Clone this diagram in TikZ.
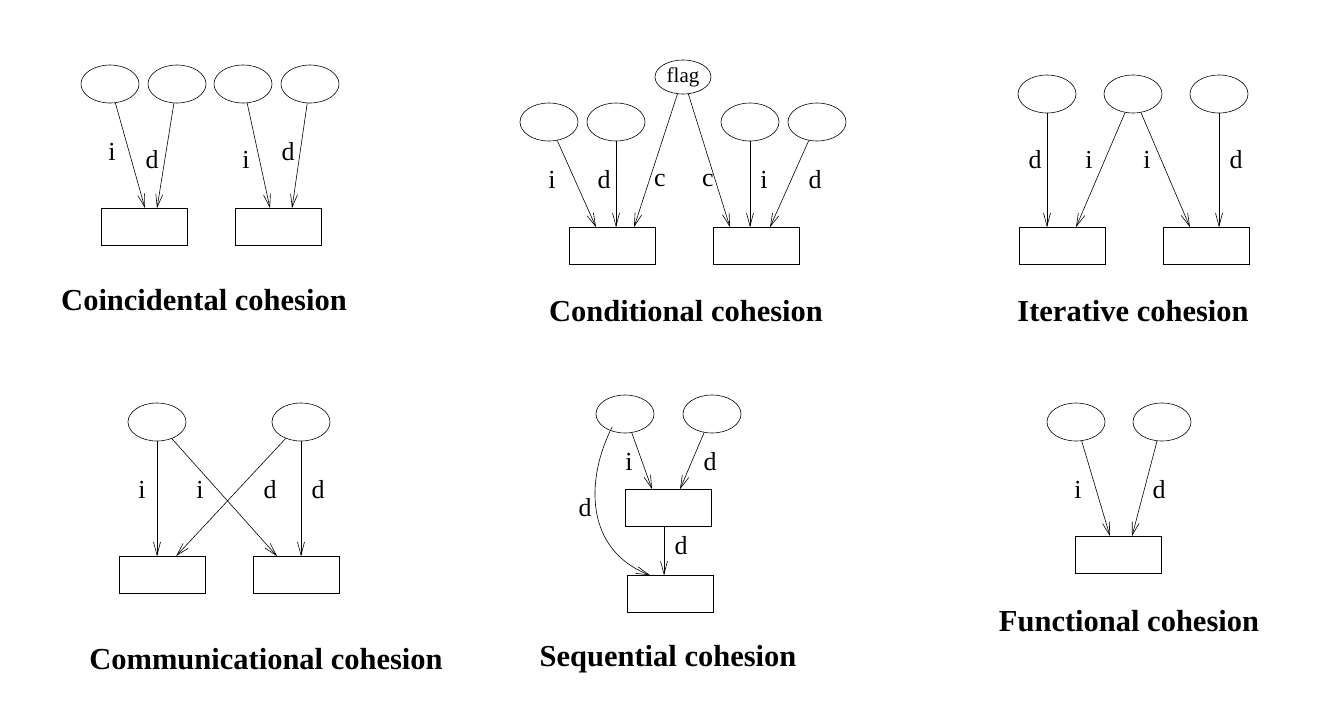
\documentclass[tikz,border=0pt]{standalone}
\usepackage{fontspec}
\setmainfont{Liberation Serif}
\usetikzlibrary{arrows.meta,shapes.geometric}
\begin{document}
\begin{tikzpicture}[x=1pt,y=-1pt,
 ell/.style={draw,ellipse,minimum width=58pt,minimum height=38pt,inner sep=0pt},
 box/.style={draw,rectangle,minimum width=86pt,minimum height=37pt,inner sep=0pt},
 lab/.style={font=\fontsize{26}{28}\selectfont,inner sep=0pt},
 ttl/.style={font=\fontsize{30.5}{32}\selectfont\bfseries,inner sep=0pt},
 arr/.style={-{Straight Barb[length=13pt,width=7pt]},line width=0.6pt},
 every node/.append style={line width=0.6pt}]
\useasboundingbox (0,0) rectangle (1322,704);
% Coincidental
\node[ell] (a1) at (110,84) {}; \node[ell] (a2) at (177,84) {};
\node[ell] (a3) at (243,84) {}; \node[ell] (a4) at (310,84) {};
\node[box] (ar1) at (144,227) {}; \node[box] (ar2) at (278,227) {};
\draw[arr] (a1) -- ([xshift=1pt]ar1.north);
\draw[arr] (a2) -- ([xshift=13pt]ar1.north);
\draw[arr] (a3) -- ([xshift=-8pt]ar2.north);
\draw[arr] (a4) -- ([xshift=14pt]ar2.north);
\node[lab] at (112,152) {i}; \node[lab] at (152,160) {d};
\node[lab] at (246,160) {i}; \node[lab] at (288,152) {d};
\node[ttl] (t1) at (204,300) {Coincidental cohesion};
% Conditional
\node[ell,minimum width=56pt,minimum height=34pt] (f) at (683,77) {\fontsize{21}{22}\selectfont flag};
\node[ell] (b1) at (549,122) {}; \node[ell] (b2) at (616,122) {};
\node[ell] (b3) at (750,122) {}; \node[ell] (b4) at (817,122) {};
\node[box] (br1) at (612,246) {}; \node[box] (br2) at (756,246) {};
\draw[arr] (b1) -- ([xshift=-16pt]br1.north);
\draw[arr] (b2) -- ([xshift=4pt]br1.north);
\draw[arr] (f) -- ([xshift=22pt]br1.north);
\draw[arr] (f) -- ([xshift=-26pt]br2.north);
\draw[arr] (b3) -- ([xshift=-6pt]br2.north);
\draw[arr] (b4) -- ([xshift=14pt]br2.north);
\node[lab] at (552,180) {i}; \node[lab] at (604,180) {d}; \node[lab] at (660,180) {c};
\node[lab] at (708,180) {c}; \node[lab] at (764,180) {i}; \node[lab] at (815,180) {d};
\node[ttl] (t2) at (686,311) {Conditional cohesion};
% Iterative
\node[ell] (c1) at (1047,94) {}; \node[ell] (c2) at (1133,94) {}; \node[ell] (c3) at (1219,94) {};
\node[box] (cr1) at (1062,246) {}; \node[box] (cr2) at (1206,246) {};
\draw[arr] (c1) -- ([xshift=-15pt]cr1.north);
\draw[arr] (c2) -- ([xshift=14pt]cr1.north);
\draw[arr] (c2) -- ([xshift=-16pt]cr2.north);
\draw[arr] (c3) -- ([xshift=13pt]cr2.north);
\node[lab] at (1035,160) {d}; \node[lab] at (1089,160) {i};
\node[lab] at (1147,160) {i}; \node[lab] at (1236,160) {d};
\node[ttl] (t3) at (1133,311) {Iterative cohesion};
% Communicational
\node[ell] (d1) at (157,422) {}; \node[ell] (d2) at (301,422) {};
\node[box] (dr1) at (162,575) {}; \node[box] (dr2) at (296,575) {};
\draw[arr] (d1.south) -- ([xshift=-5pt]dr1.north);
\draw[arr] (d1) -- ([xshift=-19pt]dr2.north);
\draw[arr] (d2) -- ([xshift=14pt]dr1.north);
\draw[arr] (d2.south) -- ([xshift=5pt]dr2.north);
\node[lab] at (142,490) {i}; \node[lab] at (200,490) {i};
\node[lab] at (270,490) {d}; \node[lab] at (318,490) {d};
\node[ttl] (t4) at (266,659) {Communicational cohesion};
% Sequential
\node[ell] (e1) at (625,414) {}; \node[ell] (e2) at (712,414) {};
\node[box] (er1) at (668,508) {}; \node[box] (er2) at (670,594) {};
\draw[arr] (e1) -- ([xshift=-16pt]er1.north);
\draw[arr] (e2) -- ([xshift=12pt]er1.north);
\draw[arr] ([xshift=-4pt]er1.south) -- ([xshift=-6pt]er2.north);
\draw[arr] (e1.south west) ++(8pt,1pt) .. controls (585,480) and (585,550) .. ([xshift=-20pt]er2.north);
\node[lab] at (629,462) {i}; \node[lab] at (710,462) {d};
\node[lab] at (681,546) {d}; \node[lab] at (585,508) {d};
\node[ttl] (t5) at (668,659) {Sequential cohesion};
% Functional
\node[ell] (g1) at (1076,422) {}; \node[ell] (g2) at (1162,422) {};
\node[box] (gr1) at (1118,555) {};
\draw[arr] (g1) -- ([xshift=-8pt]gr1.north);
\draw[arr] (g2) -- ([xshift=14pt]gr1.north);
\node[lab] at (1078,490) {i}; \node[lab] at (1159,490) {d};
\node[ttl] (t6) at (1129,621) {Functional cohesion};
\end{tikzpicture}
\end{document}
